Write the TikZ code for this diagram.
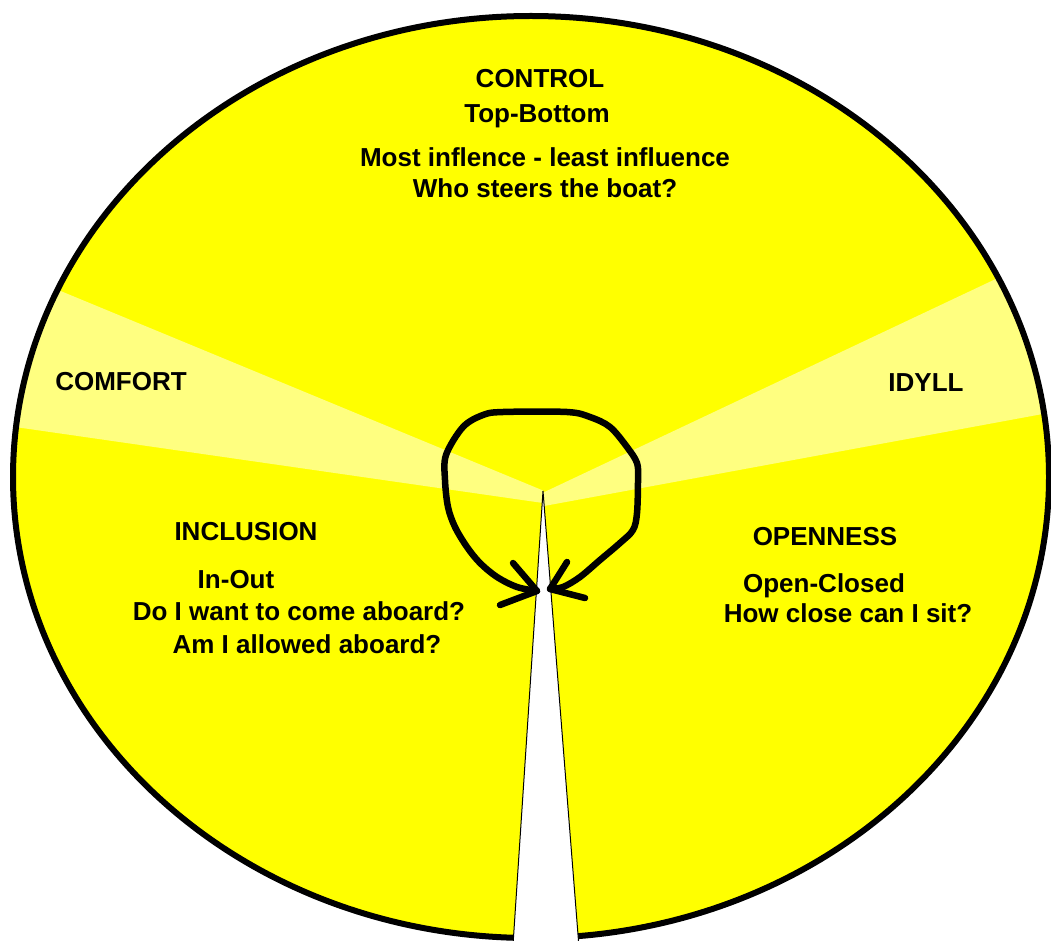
\documentclass[tikz,border=0pt]{standalone}
\usepackage{fontspec}
\setmainfont{Liberation Sans}
\begin{document}
\begin{tikzpicture}[x=1pt,y=-1pt,
  lbl/.style={anchor=base,inner sep=0pt,font=\fontsize{26}{30}\selectfont\bfseries},
  loopline/.style={line width=6.5pt,line cap=round,line join=round}]
\definecolor{yel}{RGB}{255,255,0}
\definecolor{lightyel}{RGB}{255,255,128}
\useasboundingbox (0,0) rectangle (1051,941);
\fill[white] (0,0) rectangle (1051,941);
% disc
\fill[yel] (531,477) ellipse [x radius=519, y radius=462];
\begin{scope}
  \clip (531,477) ellipse [x radius=519, y radius=462];
  \fill[lightyel] (543,490.5) -- (-100,224.6) -- (-100,410.4) -- (543,503) -- cycle;
  \fill[lightyel] (543,492.7) -- (1150,206.2) -- (1150,394.2) -- (543,506.2) -- cycle;
\end{scope}
\draw[line width=6pt] (531,477) ellipse [x radius=518, y radius=461];
% slit
\filldraw[fill=white,draw=black,line width=1pt] (543,491) -- (512,960) -- (580,960) -- cycle;
% loop with two arrow tips
\coordinate (lt) at (537,591);
\coordinate (rt) at (550,589);
\draw[loopline] plot[smooth,tension=0.55] coordinates {
 (lt) (517,587) (497,577) (480,563) (467,547) (455,527) (448,507) (445,480) (446,455)
 (463,427) (483,415) (503,412) (567,412) (590,417) (610,427) (627,447) (637,463)
 (638,480) (637,513) (633,530) (620,543) (600,560) (580,577) (563,587) (rt)};
\draw[loopline] (513,563) -- (lt) -- (500,605);
\draw[loopline] (567,562) -- (rt) -- (585,598);
% texts
\node[lbl] (control) at (540,88) {CONTROL};
\node[lbl] (tb) at (537,123) {Top-Bottom};
\node[lbl] (most) at (545,167) {Most inflence - least influence};
\node[lbl] (who) at (545,198) {Who steers the boat?};
\node[lbl] (comfort) at (121,390) {COMFORT};
\node[lbl] (idyll) at (926,391) {IDYLL};
\node[lbl] (incl) at (246,540) {INCLUSION};
\node[lbl] (inout) at (236,588) {In-Out};
\node[lbl] (doi) at (299,620) {Do I want to come aboard?};
\node[lbl] (ami) at (307,653) {Am I allowed aboard?};
\node[lbl] (open) at (825,545) {OPENNESS};
\node[lbl] (oc) at (824,592) {Open-Closed};
\node[lbl] (how) at (848,622) {How close can I sit?};
\end{tikzpicture}
\end{document}
